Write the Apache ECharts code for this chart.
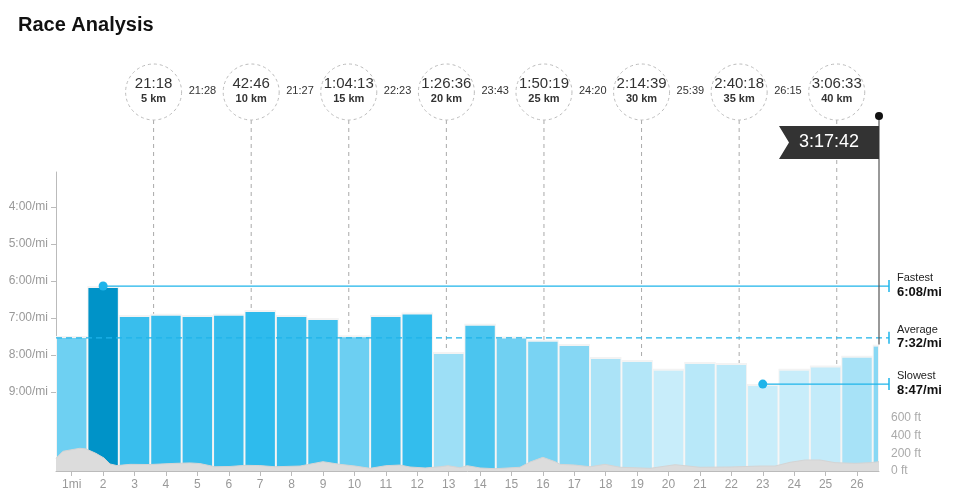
<!DOCTYPE html>
<html>
<head>
<meta charset="utf-8">
<title>Race Analysis</title>
<script src="https://cdn.jsdelivr.net/npm/echarts@6/dist/echarts.min.js"></script>
<style>
  html, body { margin: 0; padding: 0; background: #fff; }
  #chart { width: 976px; height: 494px; }
</style>
</head>
<body>
<div id="chart"></div>
<script>
// --- data ---
// end of each split in miles, the last one is the 0.2 to the finish
const mileEnds = [1, 2, 3, 4, 5, 6, 7, 8, 9, 10, 11, 12, 13, 14, 15, 16, 17, 18, 19, 20, 21, 22, 23, 24, 25, 26, 26.2];
// pace of each split, seconds per mile
const milePace = [449, 368, 415, 413, 415, 413, 407, 415, 420, 448, 415, 411, 475, 429, 450, 455, 462, 483, 488, 502, 491, 493, 527, 502, 497, 481, 463];
const xTickLabels = ['1mi', '2', '3', '4', '5', '6', '7', '8', '9', '10', '11', '12', '13', '14', '15', '16', '17', '18', '19', '20', '21', '22', '23', '24', '25', '26'];
const yTickPace = [240, 300, 360, 420, 480, 540];
const elevTicks = [0, 200, 400, 600];

// elevation profile (miles, feet)
const elevMiles = [0, 0.22, 0.45, 0.76, 0.96, 1.27, 1.53, 1.72, 1.94, 2.36, 2.99, 3.79, 4.27, 4.58, 5.06, 5.54, 6.02, 6.49, 6.97, 7.77, 8.5, 9.04, 9.52, 10.0, 10.5, 10.95, 11.27, 11.75, 12.23, 12.48, 12.86, 13.09, 13.5, 13.98, 14.77, 15.09, 15.5, 15.89, 16.05, 16.52, 17.0, 17.48, 17.96, 18.91, 19.71, 20.5, 21.46, 22.41, 22.89, 23.37, 23.85, 24.32, 24.8, 25.12, 25.44, 25.92, 26.2];
const elevFeet = [143, 222, 237, 256, 248, 199, 146, 79, 61, 75, 73, 86, 91, 84, 48, 51, 64, 61, 48, 56, 105, 75, 56, 30, 60, 67, 45, 34, 48, 60, 37, 60, 34, 26, 42, 101, 154, 105, 75, 67, 48, 75, 42, 30, 71, 42, 45, 56, 56, 98, 124, 124, 94, 90, 86, 94, 105];

// 5 km markers
const kmMarks = [5, 10, 15, 20, 25, 30, 35, 40];
const kmTimes = ['21:18', '42:46', '1:04:13', '1:26:36', '1:50:19', '2:14:39', '2:40:18', '3:06:33'];
const kmSplits = ['21:28', '21:27', '22:23', '23:43', '24:20', '25:39', '26:15'];

const refNames = ['Fastest', 'Average', 'Slowest'];
const avgPace = 452;
const finishTime = '3:17:42';
const finishMiles = 26.2;

const MI_PER_KM = 0.621371;
const FONT = '"Liberation Sans", Arial, sans-serif';
const CYAN = '#1eb4ea';

const fmtPace = (s) => {
  const m = Math.floor(s / 60);
  const r = Math.round(s - m * 60);
  return m + ':' + (r < 10 ? '0' : '') + r;
};

// bar spans [start, end, pace]
const barData = mileEnds.map((e, i) => [i === 0 ? 0 : mileEnds[i - 1], e, milePace[i]]);
const xTickPos = xTickLabels.map((_, i) => i + 0.5);

const fastIdx = milePace.indexOf(Math.min(...milePace));
const slowIdx = milePace.indexOf(Math.max(...milePace));
const barMid = (i) => (barData[i][0] + barData[i][1]) / 2;
const refData = [
  [milePace[fastIdx], barMid(fastIdx)],
  [avgPace, 0],
  [milePace[slowIdx], barMid(slowIdx)]
];

const chart = echarts.init(document.getElementById('chart'), null, { renderer: 'canvas' });

const option = {
  animation: false,
  textStyle: { fontFamily: FONT },
  title: {
    text: 'Race Analysis',
    left: 13,
    top: 10,
    textStyle: { fontSize: 20, fontWeight: 'bold', color: '#111', fontFamily: FONT }
  },
  grid: { left: 56, right: 97, top: 172, bottom: 23 },
  visualMap: {
    show: false,
    type: 'continuous',
    seriesIndex: 0,
    dimension: 2,
    min: 368,
    max: 500,
    inRange: { color: ['#0093c8', '#26b8ec', '#52c7ef', '#8fdaf5', '#c8edfa'] }
  },
  xAxis: {
    type: 'value',
    min: 0,
    max: finishMiles,
    axisLine: { show: true, onZero: false, lineStyle: { color: '#bbb' } },
    axisTick: { show: true, length: 5, lineStyle: { color: '#bbb' }, customValues: xTickPos },
    axisLabel: {
      color: '#999', fontSize: 12, margin: 8, customValues: xTickPos,
      formatter: (v) => xTickLabels[Math.round(v - 0.5)]
    },
    splitLine: { show: false }
  },
  yAxis: [
    {
      type: 'value',
      inverse: true,
      min: 183,
      max: 668,
      axisLine: { show: true, onZero: false, lineStyle: { color: '#bbb' } },
      axisTick: { show: true, length: 5, lineStyle: { color: '#bbb' }, customValues: yTickPace },
      axisLabel: {
        color: '#999', fontSize: 12, margin: 8, customValues: yTickPace,
        formatter: (v) => fmtPace(v) + '/mi'
      },
      splitLine: { show: false }
    },
    {
      type: 'value',
      position: 'right',
      min: 0,
      max: 3370,
      axisLine: { show: false },
      axisTick: { show: true, length: 5, lineStyle: { color: '#bbb' }, customValues: elevTicks },
      axisLabel: {
        color: '#aaa', fontSize: 12, margin: 12, customValues: elevTicks,
        formatter: (v) => v + ' ft'
      },
      splitLine: { show: false }
    }
  ],
  series: [
    {
      // mile splits
      type: 'custom',
      z: 2,
      encode: { x: [0, 1], y: 2 },
      data: barData,
      renderItem: (params, api) => {
        const p0 = api.coord([api.value(0), api.value(2)]);
        const p1 = api.coord([api.value(1), api.value(2)]);
        const cs = params.coordSys;
        const bottom = cs.y + cs.height;
        const top = p0[1];
        const w = p1[0] - p0[0];
        return {
          type: 'group',
          children: [
            { type: 'rect', shape: { x: p0[0], y: top, width: w, height: bottom - top }, style: { fill: '#f3f3f3' } },
            { type: 'rect', shape: { x: p0[0] + 1, y: top + 2, width: w - 2, height: bottom - top - 2 }, style: { fill: api.visual('color') } }
          ]
        };
      }
    },
    {
      // elevation
      type: 'line',
      yAxisIndex: 1,
      z: 5,
      silent: true,
      symbol: 'none',
      data: elevMiles.map((m, i) => [m, elevFeet[i]]),
      lineStyle: { width: 1, color: '#d4d4d4' },
      areaStyle: { color: '#dcdcdc', opacity: 1 }
    },
    {
      // 5 km markers
      type: 'custom',
      z: 1,
      silent: true,
      data: kmMarks.map((km) => [km * MI_PER_KM]),
      renderItem: (params, api) => {
        const i = params.dataIndex;
        const cs = params.coordSys;
        const x = api.coord([api.value(0), avgPace])[0];
        const cy = cs.y - 80;
        const r = 28;
        const children = [
          { type: 'line', shape: { x1: x, y1: cy + r, x2: x, y2: cs.y + cs.height }, style: { stroke: '#aaa', lineWidth: 1, lineDash: [4, 4] } },
          { type: 'circle', shape: { cx: x, cy: cy, r: r }, style: { fill: '#fff', stroke: '#bbb', lineWidth: 1, lineDash: [3, 3] } },
          { type: 'text', style: { text: kmTimes[i], x: x, y: cy - 8, align: 'center', verticalAlign: 'middle', fontSize: 15, fill: '#333', fontFamily: FONT } },
          { type: 'text', style: { text: kmMarks[i] + ' km', x: x, y: cy + 7, align: 'center', verticalAlign: 'middle', fontSize: 11, fontWeight: 'bold', fill: '#333', fontFamily: FONT } }
        ];
        if (i > 0) {
          const xp = api.coord([kmMarks[i - 1] * MI_PER_KM, avgPace])[0];
          children.push({ type: 'text', style: { text: kmSplits[i - 1], x: (x + xp) / 2, y: cy - 1, align: 'center', verticalAlign: 'middle', fontSize: 11, fill: '#333', fontFamily: FONT } });
        }
        return { type: 'group', children: children };
      }
    },
    {
      // fastest / average / slowest
      type: 'custom',
      z: 4,
      silent: true,
      data: refData,
      renderItem: (params, api) => {
        const i = params.dataIndex;
        const cs = params.coordSys;
        const pace = api.value(0);
        const p = api.coord([api.value(1), pace]);
        const xEnd = cs.x + cs.width + 10;
        const dashed = refNames[i] === 'Average';
        const children = [
          { type: 'line', shape: { x1: p[0], y1: p[1], x2: xEnd, y2: p[1] }, style: { stroke: CYAN, lineWidth: 1.3, lineDash: dashed ? [6, 4] : null } },
          { type: 'line', shape: { x1: xEnd, y1: p[1] - 6, x2: xEnd, y2: p[1] + 6 }, style: { stroke: CYAN, lineWidth: 1.5 } },
          { type: 'text', style: { text: refNames[i], x: xEnd + 8, y: p[1] - 8, verticalAlign: 'middle', fontSize: 11, fill: '#222', fontFamily: FONT } },
          { type: 'text', style: { text: fmtPace(pace) + '/mi', x: xEnd + 8, y: p[1] + 6, verticalAlign: 'middle', fontSize: 13, fontWeight: 'bold', fill: '#111', fontFamily: FONT } }
        ];
        if (!dashed) {
          children.push({ type: 'circle', shape: { cx: p[0], cy: p[1], r: 4.5 }, style: { fill: CYAN } });
        }
        return { type: 'group', children: children };
      }
    },
    {
      // finish flag
      type: 'custom',
      z: 6,
      silent: true,
      data: [[finishMiles, milePace[milePace.length - 1]]],
      renderItem: (params, api) => {
        const cs = params.coordSys;
        const p = api.coord([api.value(0), api.value(1)]);
        const x = p[0];
        const top = cs.y - 56;
        return {
          type: 'group',
          children: [
            { type: 'line', shape: { x1: x, y1: top, x2: x, y2: p[1] }, style: { stroke: '#555', lineWidth: 1.2 } },
            { type: 'circle', shape: { cx: x, cy: top, r: 4 }, style: { fill: '#111' } },
            { type: 'polygon', shape: { points: [[x - 100, cs.y - 46], [x, cs.y - 46], [x, cs.y - 13], [x - 100, cs.y - 13], [x - 90, cs.y - 29.5]] }, style: { fill: '#333' } },
            { type: 'text', style: { text: finishTime, x: x - 50, y: cs.y - 29.5, align: 'center', verticalAlign: 'middle', fontSize: 18, fill: '#fff', fontFamily: FONT } }
          ]
        };
      }
    }
  ]
};

chart.setOption(option);
</script>
</body>
</html>
